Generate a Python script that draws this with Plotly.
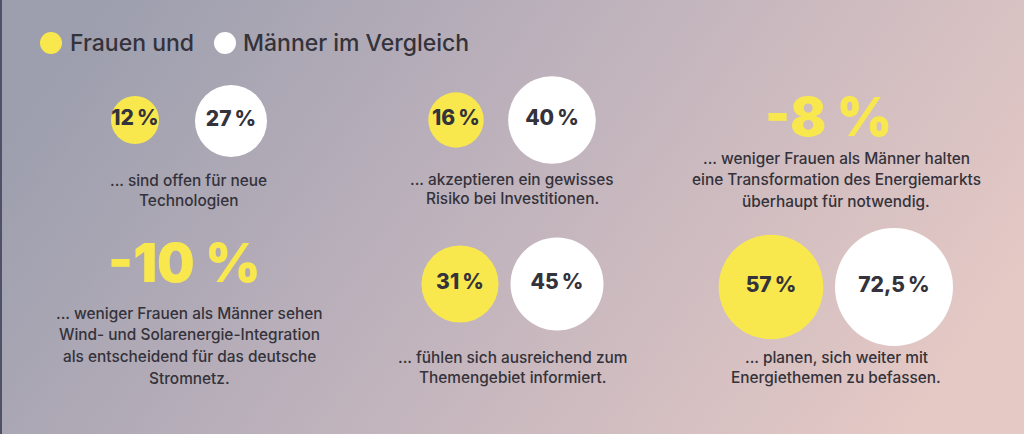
import base64
import numpy as np
import plotly.graph_objects as go

# ---------------- data ----------------
women = [12, 16, 31, 57]
men = [27, 40, 45, 72.5]
women_labels = ["12\u202f%", "16\u202f%", "31\u202f%", "57\u202f%"]
men_labels = ["27\u202f%", "40\u202f%", "45\u202f%", "72,5\u202f%"]
pair_captions = [
    ["... sind offen für neue", "Technologien"],
    ["... akzeptieren ein gewisses", "Risiko bei Investitionen."],
    ["... fühlen sich ausreichend zum", "Themengebiet informiert."],
    ["... planen, sich weiter mit", "Energiethemen zu befassen."],
]
diff_values = ["-10\u00a0%", "-8\u00a0%"]
diff_captions = [
    ["... weniger Frauen als Männer sehen", "Wind- und Solarenergie-Integration",
     "als entscheidend für das deutsche", "Stromnetz."],
    ["... weniger Frauen als Männer halten", "eine Transformation des Energiemarkts",
     "überhaupt für notwendig."],
]
legend_labels = ["Frauen und", "Männer im Vergleich"]

# ---------------- layout / style ----------------
W, H = 1024, 434
YELLOW = "#f8e84e"
WHITE = "#ffffff"
DARK = "#34323a"
FONT = "Inter"
K = 6.93  # px radius per sqrt(percent)

women_pos = [(135, 120), (456, 120), (460, 284), (771, 287)]
men_pos = [(231, 121), (552, 120), (557, 284), (894, 287)]
cap_pos = [(188, 180, 20.5), (512, 179, 19.5), (512, 357, 20), (836, 357, 20)]
diff_pos = [(184, 263), (828, 117)]
diff_cap_pos = [(189, 313, 21.8), (836, 158, 21.8)]

svg = f'''<svg xmlns="http://www.w3.org/2000/svg" width="{W}" height="{H}">
<defs><linearGradient id="g" x1="0" y1="0.35" x2="1" y2="0.65">
<stop offset="0" stop-color="#9d9fae"/>
<stop offset="0.45" stop-color="#beb2bc"/>
<stop offset="1" stop-color="#e5c9c5"/>
</linearGradient></defs>
<rect width="{W}" height="{H}" fill="url(#g)"/>
<rect width="2" height="{H}" fill="#4f5266"/>
</svg>'''
bg_src = "data:image/svg+xml;base64," + base64.b64encode(svg.encode()).decode()

fig = go.Figure()

def diam(v):
    return 2 * K * np.sqrt(v)

label_font = dict(family=FONT, size=21, color=DARK, weight=800)
fig.add_trace(go.Scatter(
    x=[p[0] for p in women_pos], y=[p[1] for p in women_pos],
    mode="markers+text", text=women_labels, textposition="middle center",
    marker=dict(size=[diam(v) for v in women], color=YELLOW, opacity=1, line=dict(width=0)),
    textfont=label_font, hoverinfo="skip", showlegend=False, cliponaxis=False))
fig.add_trace(go.Scatter(
    x=[p[0] for p in men_pos], y=[p[1] for p in men_pos],
    mode="markers+text", text=men_labels, textposition="middle center",
    marker=dict(size=[diam(v) for v in men], color=WHITE, opacity=1, line=dict(width=0)),
    textfont=label_font, hoverinfo="skip", showlegend=False, cliponaxis=False))

# legend dots
fig.add_trace(go.Scatter(
    x=[51, 225], y=[43, 43], mode="markers",
    marker=dict(size=22, color=[YELLOW, WHITE], opacity=1, line=dict(width=0)),
    hoverinfo="skip", showlegend=False, cliponaxis=False))

annotations = []
for (x, t) in zip([68, 241], legend_labels):
    annotations.append(dict(x=x, y=43, text=t, xanchor="left", yanchor="middle",
                            showarrow=False, font=dict(family=FONT, size=23, color=DARK, weight=500)))

def add_lines(lines, cx, y0, dy, size=15.4):
    for i, ln in enumerate(lines):
        annotations.append(dict(x=cx, y=y0 + i * dy, text=ln, xanchor="center", yanchor="middle",
                                showarrow=False, font=dict(family=FONT, size=size, color=DARK, weight=500)))

for lines, (cx, y0, dy) in zip(pair_captions, cap_pos):
    add_lines(lines, cx, y0, dy)
for lines, (cx, y0, dy) in zip(diff_captions, diff_cap_pos):
    add_lines(lines, cx, y0, dy)
for t, (cx, cy) in zip(diff_values, diff_pos):
    annotations.append(dict(x=cx, y=cy, text=t, xanchor="center", yanchor="middle",
                            showarrow=False, font=dict(family=FONT, size=53, color=YELLOW, weight=900)))

fig.update_layout(
    width=W, height=H, margin=dict(l=0, r=0, t=0, b=0),
    paper_bgcolor="rgba(0,0,0,0)", plot_bgcolor="rgba(0,0,0,0)",
    xaxis=dict(range=[0, W], visible=False, fixedrange=True),
    yaxis=dict(range=[H, 0], visible=False, fixedrange=True),
    images=[dict(source=bg_src, xref="paper", yref="paper", x=0, y=1, sizex=1, sizey=1,
                 xanchor="left", yanchor="top", sizing="stretch", layer="below")],
    annotations=annotations,
)
fig.write_html("out.html", config={"displayModeBar": False},
               post_script="document.body.style.margin='0';document.body.style.overflow='hidden';")
